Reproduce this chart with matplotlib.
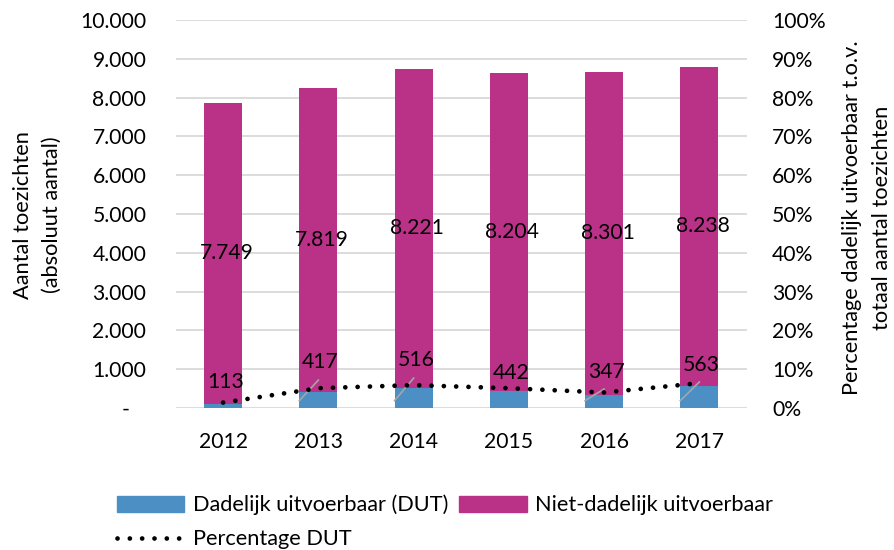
import matplotlib
matplotlib.use('Agg')
import matplotlib.pyplot as plt
from matplotlib.lines import Line2D
from matplotlib.patches import Patch
import numpy as np

plt.rcParams['font.family'] = ['Lato', 'DejaVu Sans']

years = ['2012', '2013', '2014', '2015', '2016', '2017']
dut = [113, 417, 516, 442, 347, 563]
niet_dut = [7749, 7819, 8221, 8204, 8301, 8238]
pct_dut = [1.4, 5.1, 5.9, 5.1, 4.0, 6.4]

# label placement for the small DUT numbers (Excel moved them by hand)
dut_label_y = [680, 1190, 1240, 895, 940, 1110]
leader_end_y = [None, 720, 770, None, 490, 670]

blue = '#4C8FC4'
magenta = '#BA3287'
grid_c = '#D9D9D9'
fs = 15.2
fs_txt = 15.7

W, H = 894, 550
fig = plt.figure(figsize=(W / 100, H / 100), dpi=100)
ax = fig.add_axes([175.5 / W, 1 - 408 / H, (747 - 175.5) / W, (408 - 20) / H])
ax2 = ax.twinx()

x = np.arange(len(years))
bw = 0.4
ax.bar(x, dut, bw, color=blue, zorder=2)
ax.bar(x, niet_dut, bw, bottom=dut, color=magenta, zorder=2)

ax.set_xlim(-0.5, len(years) - 0.5)
ax.set_ylim(0, 10000)
ax.set_yticks(np.arange(0, 10001, 1000))
ylabels = ['-   '] + [f'{v:,}'.replace(',', '.') for v in range(1000, 10001, 1000)]
ax.set_yticklabels(ylabels)
ax.yaxis.grid(True, color=grid_c, lw=1.3, zorder=0)
ax.set_axisbelow(True)
ax.set_xticks(x)
ax.set_xticklabels(years)
ax.tick_params(axis='y', length=0, pad=21, labelsize=fs)
ax.tick_params(axis='x', length=0, pad=17, labelsize=fs)
for s in ax.spines.values():
    s.set_visible(False)

ax2.set_ylim(0, 100)
ax2.set_yticks(np.arange(0, 101, 10))
ax2.set_yticklabels([f'{v}%' for v in range(0, 101, 10)])
ax2.tick_params(axis='y', length=0, pad=18, labelsize=fs)
for s in ax2.spines.values():
    s.set_visible(False)
ax2.plot(x, pct_dut, color='black', lw=3.4, linestyle=(0, (0.01, 2.6)),
         dash_capstyle='round', zorder=5)

# value labels
for i in range(len(years)):
    mid = dut[i] + niet_dut[i] / 2
    ax.annotate(f'{niet_dut[i]:,}'.replace(',', '.'), (x[i], mid),
                xytext=(2.5, 0), textcoords='offset points',
                ha='center', va='center', fontsize=fs, zorder=6)
    ax.annotate(str(dut[i]), (x[i], dut_label_y[i]),
                xytext=(1.5, 0), textcoords='offset points',
                ha='center', va='center', fontsize=fs, zorder=6)
    if leader_end_y[i] is not None:
        ax.plot([x[i] - bw / 2, x[i]], [190, leader_end_y[i]],
                color='#A6A6A6', lw=1.2, zorder=4)

# axis titles
fig.text(37.5 / W, 1 - 215 / H, 'Aantal toezichten\n(absoluut aantal)',
         rotation=90, ha='center', va='center', fontsize=fs_txt, linespacing=1.55)
fig.text(867 / W, 1 - 218 / H,
         'Percentage dadelijk uitvoerbaar t.o.v.\ntotaal aantal toezichten',
         rotation=90, ha='center', va='center', fontsize=fs_txt, linespacing=1.6)

handles = [Patch(color=blue, label='Dadelijk uitvoerbaar (DUT)'),
           Line2D([], [], color='black', lw=3.4, linestyle=(0, (0.01, 2.6)),
                  dash_capstyle='round', label='Percentage DUT'),
           Patch(color=magenta, label='Niet-dadelijk uitvoerbaar')]
fig.legend(handles=handles, ncol=2, loc='upper left',
           bbox_to_anchor=(110 / W, 1 - 488 / H), frameon=False,
           fontsize=fs_txt, handlelength=3.1, handleheight=0.75,
           handletextpad=0.4, columnspacing=0.5, labelspacing=0.65,
           borderaxespad=0, borderpad=0.3)

fig.savefig('out.png', dpi=100)
